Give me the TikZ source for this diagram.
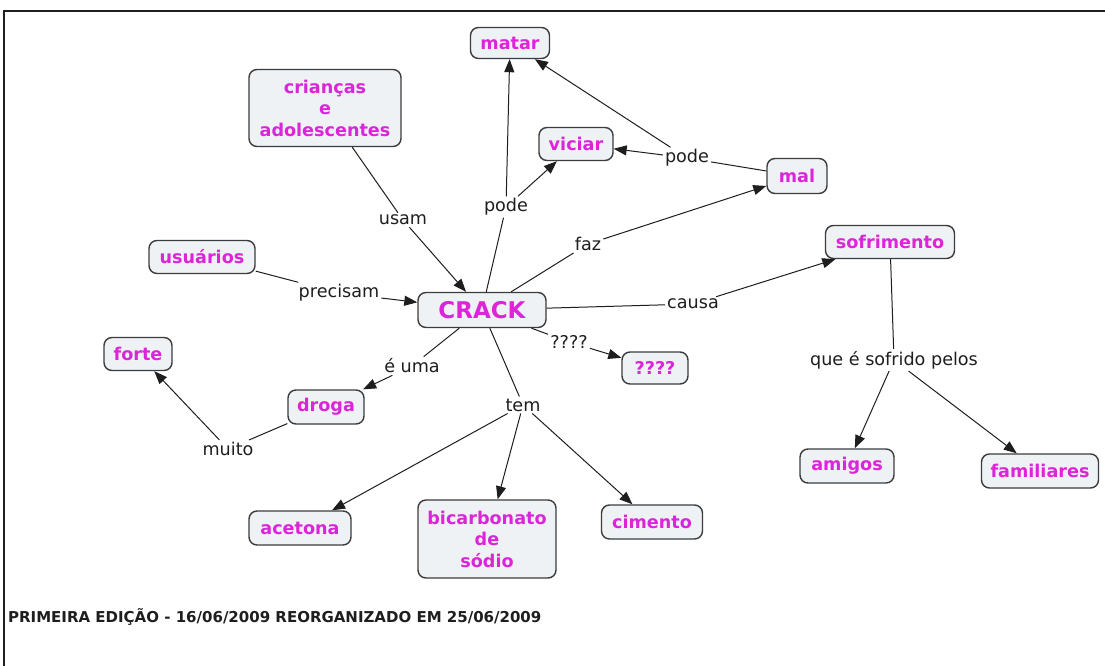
\documentclass[tikz,border=0pt]{standalone}
\usepackage{fontspec}
\setmainfont{DejaVu Sans}
\usetikzlibrary{arrows.meta}
\definecolor{conceptText}{RGB}{220,36,216}
\definecolor{conceptFill}{RGB}{238,242,245}
\definecolor{conceptLine}{RGB}{60,60,60}
\definecolor{inkDark}{RGB}{30,30,30}

\begin{document}
\begin{tikzpicture}[x=1pt,y=-1pt,
  concept/.style={draw=conceptLine, line width=1.4pt, fill=conceptFill,
    rounded corners=8pt, font=\bfseries\fontsize{17.6}{21.5}\selectfont,
    text=conceptText, align=center, inner sep=0pt},
  linkword/.style={font=\fontsize{17.6}{21}\selectfont, inner sep=2pt, text=inkDark},
  link/.style={line width=1pt, draw=inkDark},
  arrowlink/.style={link, -{Triangle[length=13pt,width=10pt]}}]

\useasboundingbox (0,0) rectangle (1105,666);
\fill[white] (0,0) rectangle (1105,666);
% frame
\draw[line width=2.5pt, inkDark] (4,666) -- (4,11) -- (1105,11);

% concepts
\node[concept, minimum width=79, minimum height=31] (matar) at (510,43) {matar};
\node[concept, minimum width=152, minimum height=77] (criancas) at (325,108) {crianças\\e\\adolescentes};
\node[concept, minimum width=74, minimum height=33] (viciar) at (576,144) {viciar};
\node[concept, minimum width=60, minimum height=35] (mal) at (797,176) {mal};
\node[concept, minimum width=106, minimum height=33] (usuarios) at (202,257) {usuários};
\node[concept, minimum width=129, minimum height=33] (sofrimento) at (890,242) {sofrimento};
\node[concept, minimum width=128, minimum height=35, font=\bfseries\fontsize{23}{27}\selectfont] (crack) at (482,310) {CRACK};
\node[concept, minimum width=68, minimum height=33] (forte) at (138,354) {forte};
\node[concept, minimum width=66, minimum height=32] (quest) at (655,368) {????};
\node[concept, minimum width=76, minimum height=34] (droga) at (326,407) {droga};
\node[concept, minimum width=94, minimum height=34] (amigos) at (847,466) {amigos};
\node[concept, minimum width=117, minimum height=34] (familiares) at (1040,471) {familiares};
\node[concept, minimum width=102, minimum height=34] (acetona) at (300,528) {acetona};
\node[concept, minimum width=138, minimum height=78] (bicarb) at (487,539) {bicarbonato\\de\\sódio};
\node[concept, minimum width=101, minimum height=34] (cimento) at (652,522) {cimento};

% linking words
\node[linkword] (usam) at (403,220) {usam};
\node[linkword] (podeA) at (506,207) {pode};
\node[linkword] (podeB) at (687,158) {pode};
\node[linkword] (faz) at (588,244) {faz};
\node[linkword] (precisam) at (339,293) {precisam};
\node[linkword] (causa) at (693,304) {causa};
\node[linkword] (questlink) at (569,342) {????};
\node[linkword] (euma) at (412,366) {é uma};
\node[linkword] (tem) at (523,405) {tem};
\node[linkword] (muito) at (228,449) {muito};
\node[linkword] (sofrido) at (894,360) {que é sofrido pelos};

% connectors
\draw[link] (criancas) -- (usam);
\draw[arrowlink] (usam) -- (crack);
\draw[link] (usuarios) -- (precisam);
\draw[arrowlink] (precisam) -- (crack);
\draw[link] (crack) -- (podeA);
\draw[arrowlink] (podeA) -- (matar);
\draw[arrowlink] (podeA) -- (viciar);
\draw[link] (crack) -- (faz);
\draw[arrowlink] (faz) -- (mal);
\draw[link] (mal) -- (podeB);
\draw[arrowlink] (podeB) -- (viciar);
\draw[arrowlink] (podeB) -- (matar);
\draw[link] (crack) -- (causa);
\draw[arrowlink] (causa) -- (sofrimento);
\draw[link] (crack) -- (questlink);
\draw[arrowlink] (questlink) -- (quest);
\draw[link] (crack) -- (euma);
\draw[arrowlink] (euma) -- (droga);
\draw[link] (droga) -- (muito);
\draw[arrowlink] (muito) -- (forte);
\draw[link] (crack) -- (tem);
\draw[arrowlink] (tem) -- (acetona);
\draw[arrowlink] (tem) -- (bicarb);
\draw[arrowlink] (tem) -- (cimento);
\draw[link] (sofrimento) -- (sofrido);
\draw[arrowlink] (sofrido) -- (amigos);
\draw[arrowlink] (sofrido) -- (familiares);

% footer
\node[anchor=west, inner sep=0pt, font=\bfseries\fontsize{15}{18}\selectfont, text=inkDark] (footer) at (8,617)
  {PRIMEIRA EDIÇÃO - 16/06/2009 REORGANIZADO EM 25/06/2009};
\end{tikzpicture}
\end{document}
